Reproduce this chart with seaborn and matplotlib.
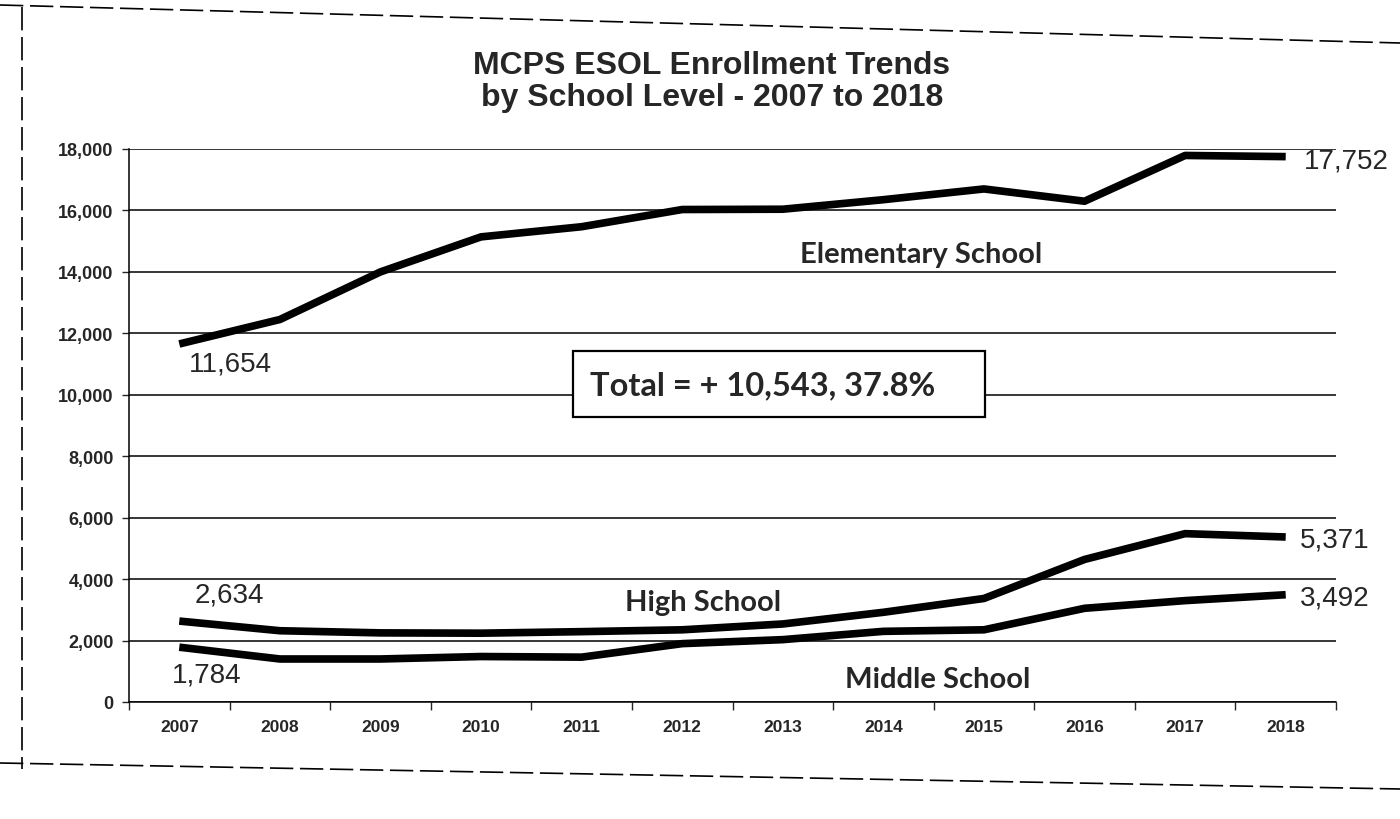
import pandas as pd
import matplotlib
matplotlib.use("Agg")
import matplotlib.pyplot as plt
import seaborn as sns
from matplotlib.lines import Line2D
from matplotlib.patches import Rectangle
from matplotlib.ticker import FuncFormatter

# values
years = [2007, 2008, 2009, 2010, 2011, 2012, 2013, 2014, 2015, 2016, 2017, 2018]
elementary = [11654, 12450, 14000, 15140, 15470, 16030, 16040, 16350, 16700, 16300, 17790, 17752]
high = [2634, 2320, 2250, 2240, 2290, 2350, 2540, 2920, 3370, 4640, 5480, 5371]
middle = [1784, 1400, 1400, 1480, 1460, 1900, 2030, 2300, 2350, 3050, 3300, 3492]
levels = ["Elementary School", "High School", "Middle School"]
y_ticks = [0, 2000, 4000, 6000, 8000, 10000, 12000, 14000, 16000, 18000]
total_text = "Total = + 10,543, 37.8%"
title = "MCPS ESOL Enrollment Trends\nby School Level - 2007 to 2018"

df = pd.DataFrame({
    "year": years * 3,
    "level": [levels[0]] * 12 + [levels[1]] * 12 + [levels[2]] * 12,
    "students": elementary + high + middle,
})

sns.set_style("white")
plt.rcParams["font.family"] = ["Liberation Sans", "DejaVu Sans"]

W, H = 1400, 820
fig = plt.figure(figsize=(14, 8.2), dpi=100)
# axes placed in pixel terms of the reference
x0, x1, y_top, y_bot = 129, 1336, 150, 703
ax = fig.add_axes([x0 / W, 1 - y_bot / H, (x1 - x0) / W, (y_bot - y_top) / H])

sns.lineplot(data=df, x="year", y="students", hue="level",
             palette=["black"] * 3, linewidth=5.5, legend=False, ax=ax,
             solid_capstyle="butt")

ax.set_xlim(2006.5, 2018.5)
ax.set_ylim(0, 18000)
ax.set_yticks(y_ticks)
ax.yaxis.set_major_formatter(FuncFormatter(lambda v, p: f"{int(v):,}"))
ax.set_xticks(years)
ax.set_xticks([y - 0.5 for y in years] + [2018.5], minor=True)
ax.tick_params(axis="x", which="major", length=0, pad=12, labelsize=12.5)
ax.tick_params(axis="x", which="minor", length=6, width=1, direction="out", bottom=True)
ax.tick_params(axis="y", length=5, width=1, direction="out", left=True, pad=6, labelsize=13)
for lab in ax.get_xticklabels() + ax.get_yticklabels():
    lab.set_fontweight("bold")
ax.set_xlabel("")
ax.set_ylabel("")

ax.yaxis.grid(True, color="black", linewidth=1.1)
ax.set_axisbelow(True)
for s in ["top", "right"]:
    ax.spines[s].set_visible(False)
for s in ["left", "bottom"]:
    ax.spines[s].set_color("black")
    ax.spines[s].set_linewidth(1.1)

# value labels at both ends
lab_kw = dict(textcoords="offset pixels", fontsize=20, va="center")
ax.annotate(f"{elementary[0]:,}", xy=(years[0], elementary[0]), xytext=(51, -20), ha="center", **lab_kw)
ax.annotate(f"{high[0]:,}", xy=(years[0], high[0]), xytext=(50, 27), ha="center", **lab_kw)
ax.annotate(f"{middle[0]:,}", xy=(years[0], middle[0]), xytext=(27, -27), ha="center", **lab_kw)
ax.annotate(f"{elementary[-1]:,}", xy=(years[-1], elementary[-1]), xytext=(18, -4), ha="left", **lab_kw)
ax.annotate(f"{high[-1]:,}", xy=(years[-1], high[-1]), xytext=(14, -3), ha="left", **lab_kw)
ax.annotate(f"{middle[-1]:,}", xy=(years[-1], middle[-1]), xytext=(14, -3), ha="left", **lab_kw)

# series names and the total box
name_kw = dict(family=["Lato", "DejaVu Sans"], fontweight="bold", fontsize=21,
               ha="center", va="center")
fig.text(921 / W, 1 - 255 / H, levels[0], **name_kw)
fig.text(703 / W, 1 - 603 / H, levels[1], **name_kw)
fig.text(938 / W, 1 - 680 / H, levels[2], **name_kw)

box = Rectangle((573 / W, 1 - 418 / H), 412 / W, 66 / H, transform=fig.transFigure,
                facecolor="white", edgecolor="black", linewidth=1.6, zorder=5)
fig.add_artist(box)
fig.text(590 / W, 1 - 386 / H, total_text, family=["Lato", "DejaVu Sans"],
         fontweight="bold", fontsize=23.5, ha="left", va="center", zorder=6)

fig.text(712 / W, 1 - 82 / H, title, fontsize=23, fontweight="bold",
         ha="center", va="center", linespacing=1.05)

# edges of the scanned page
scan = dict(color="black", linewidth=1.2, linestyle=(0, (14, 4)))
fig.add_artist(Line2D([0, 1], [1 - 6 / H, 1 - 44 / H], **scan))
fig.add_artist(Line2D([22 / W, 22 / W], [1 - 8 / H, 1 - 770 / H], **scan))
fig.add_artist(Line2D([0, 1], [1 - 764 / H, 1 - 790 / H], **scan))

fig.savefig("out.png", dpi=100)
